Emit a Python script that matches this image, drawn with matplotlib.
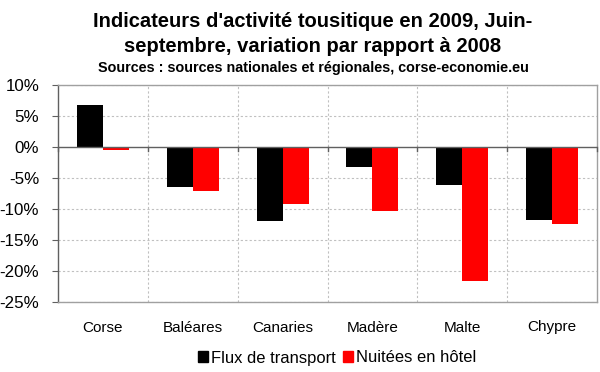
import matplotlib
matplotlib.use("Agg")
import matplotlib.pyplot as plt
import numpy as np
from matplotlib.patches import Patch

categories = ["Corse", "Baléares", "Canaries", "Madère", "Malte", "Chypre"]
flux = [6.8, -6.45, -12.0, -3.2, -6.1, -11.8]
nuitees = [-0.55, -7.05, -9.25, -10.3, -21.6, -12.5]
yticks = [10, 5, 0, -5, -10, -15, -20, -25]
series_names = ["Flux de transport", "Nuitées en hôtel"]

plt.rcParams['font.family'] = ['Liberation Sans', 'DejaVu Sans']

W, H = 600, 372
fig = plt.figure(figsize=(6, 3.72), dpi=100)
ax = fig.add_axes([58/W, 1-302/H, (597-58)/W, (302-85)/H])

x = np.arange(len(categories))
w = 0.29
ax.bar(x - w/2, flux, w, color="black", zorder=3)
ax.bar(x + w/2, nuitees, w, color="#ff0000", zorder=3)

ax.set_xlim(-0.5, len(categories) - 0.5)
ax.set_ylim(-25, 10)
ax.set_yticks(yticks)
ax.set_yticklabels([f"{v}%" for v in yticks], fontsize=12.2)
ax.set_xticks([])

for v in yticks:
    if v != 0:
        ax.axhline(v, color="#c0c0c0", lw=0.8, ls=(0, (2, 2)), zorder=1)
for b in np.arange(0.5, len(categories) - 0.5, 1):
    ax.axvline(b, color="#c0c0c0", lw=0.8, ls=(0, (2, 2)), zorder=1)

ax.axhline(0, color="#606060", lw=1.0, zorder=4)
for b in np.arange(-0.5, len(categories), 1):
    ax.plot([b, b], [0, -0.7], color="#606060", lw=1.0, zorder=4, clip_on=False)

for s in ax.spines.values():
    s.set_color("#a0a0a0")
    s.set_linewidth(1.0)
ax.spines['left'].set_color("#606060")
ax.tick_params(axis='y', length=4.5, color="#606060", pad=9)

for i, c in enumerate(categories):
    ax.text(i, 0, c, ha="center", va="baseline", fontsize=11,
            transform=ax.get_xaxis_transform() + matplotlib.transforms.ScaledTranslation(0, -(331.5-302)/100, fig.dpi_scale_trans))

cx = 313/W
fig.text(cx, 1-27/H, "Indicateurs d'activité tousitique en 2009, Juin-", ha="center", va="baseline",
         fontsize=14.5, fontweight="bold")
fig.text(cx, 1-52.5/H, "septembre, variation par rapport à 2008", ha="center", va="baseline",
         fontsize=14.5, fontweight="bold")
fig.text(cx, 1-72/H, "Sources : sources nationales et régionales, corse-economie.eu", ha="center", va="baseline",
         fontsize=10.35, fontweight="bold")

handles = [Patch(color="black"), Patch(color="#ff0000")]
fig.legend(handles, series_names, loc="center", bbox_to_anchor=(337/W, 1-358/H), ncol=2, frameon=False,
           fontsize=11.9, handlelength=0.62, handleheight=0.62, handletextpad=0.15, columnspacing=0.45,
           borderpad=0, borderaxespad=0)

fig.savefig("out.png", dpi=100, facecolor="white")
